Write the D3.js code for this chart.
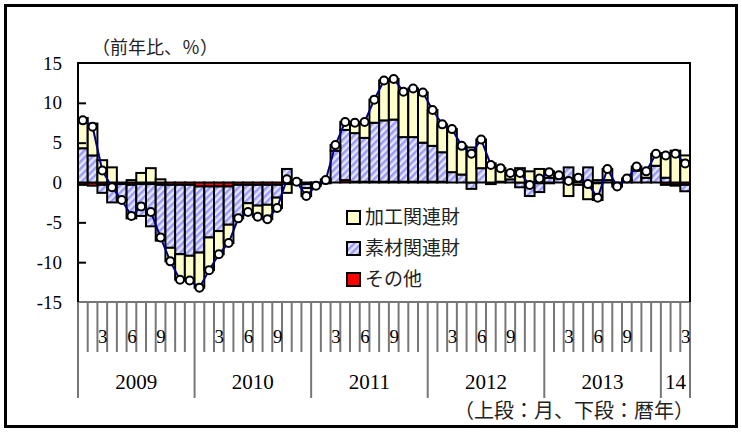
<!DOCTYPE html>
<html>
<head>
<meta charset="utf-8">
<script src="https://cdn.jsdelivr.net/npm/d3@7"></script>
<style>
  body { margin: 0; background: #fff; }
</style>
</head>
<body>
<div id="chart"></div>
<script>
// year row of the category axis, and how many months each year has in the chart
var yearLabels = ["2009", "2010", "2011", "2012", "2013", "14"];
var monthsInYear = [12, 12, 12, 12, 12, 3];
var monthLabels = {3: "3", 6: "6", 9: "9"};

var yTicks = [-15, -10, -5, 0, 5, 10, 15];

// contributions, Jan 2009 .. Mar 2014 (%)
var sonota = [-0.3, -0.4, -0.3, -0.2, -0.2, -0.3, -0.2, -0.2, -0.3, -0.3, -0.3, -0.3,
              -0.5, -0.5, -0.5, -0.5, -0.3, -0.3, -0.3, -0.3, -0.3, -0.2, -0.1, -0.2,
              -0.1, -0.1, 0.0, 0.3, 0.1, 0.1, 0.1, 0.1, 0.1, 0.1, 0.1, 0.1,
              0.1, 0.1, 0.0, 0.0, 0.0, 0.0, 0.0, 0.0, 0.0, 0.0, 0.0, -0.1,
              -0.1, 0.0, 0.0, 0.0, -0.2, -0.1, 0.0, -0.1, 0.0, 0.0, 0.0, 0.0,
              -0.3, -0.3, -0.3];
var sozai = [4.3, 3.4, -1.0, -2.3, -1.9, -4.2, -4.0, -5.3, -7.0, -7.9, -8.7, -8.9,
             -8.3, -6.4, -5.6, -4.8, -3.9, -2.3, -2.6, -2.5, -1.6, 1.7, 0.3, -0.5,
             -0.1, 0.2, 4.0, 6.3, 6.1, 5.5, 7.4, 7.7, 7.8, 5.6, 5.6, 4.9,
             4.5, 3.7, 1.3, 1.0, -0.8, 1.8, -0.2, 0.1, 0.4, -0.6, -1.7, -1.1,
             0.6, 0.5, 1.9, 0.9, 1.9, 0.3, 0.3, -0.1, 0.3, 1.5, 0.6, 2.1,
             0.6, -0.1, -0.8];
var kako = [3.8, 4.0, 2.8, 1.9, -0.1, 0.3, 1.2, 1.8, 0.4, -1.7, -3.2, -3.1,
            -4.4, -4.1, -2.9, -2.3, -0.3, -1.1, -1.4, -1.8, -1.3, -1.1, -0.1, -1.0,
            -0.2, 0.2, 0.7, 1.0, 1.3, 2.0, 2.9, 5.0, 5.1, 5.7, 6.1, 6.3,
            4.5, 3.5, 5.4, 3.6, 4.4, 3.6, 2.4, 1.7, 0.8, 1.8, 1.4, 1.7,
            0.8, 0.4, -1.7, -0.3, -1.9, -2.1, 1.4, -0.3, 0.2, 0.5, 0.8, 1.5,
            3.1, 4.0, 3.4];
var total = [7.8, 7.0, 1.5, -0.6, -2.2, -4.2, -3.0, -3.7, -6.9, -9.9, -12.2, -12.3,
             -13.2, -11.0, -9.0, -7.6, -4.5, -3.7, -4.3, -4.6, -3.2, 0.4, 0.1, -1.7,
             -0.4, 0.3, 4.7, 7.6, 7.5, 7.6, 10.4, 12.8, 13.0, 11.4, 11.8, 11.3,
             9.1, 7.3, 6.7, 4.6, 3.6, 5.4, 2.2, 1.8, 1.2, 1.2, -0.3, 0.5,
             1.3, 0.9, 0.2, 0.6, -0.2, -1.9, 1.7, -0.5, 0.5, 2.0, 1.4, 3.6,
             3.4, 3.6, 2.4];

var seriesKeys = ["sonota", "sozai", "kako"];
var seriesFill = {sonota: "#ff0000", sozai: "url(#hatch)", kako: "#ffffcc"};
var legendItems = [
  {key: "kako", label: "加工関連財"},
  {key: "sozai", label: "素材関連財"},
  {key: "sonota", label: "その他"}
];

(function() {
  var width = 742, height = 432;
  var pL = 78, pR = 690, pT = 63, pB = 302;

  var rows = total.map(function(t, i) {
    return {i: i, sonota: sonota[i], sozai: sozai[i], kako: kako[i]};
  });

  var svg = d3.select("#chart").append("svg")
    .attr("width", width)
    .attr("height", height);

  var defs = svg.append("defs");
  var pat = defs.append("pattern")
    .attr("id", "hatch")
    .attr("patternUnits", "userSpaceOnUse")
    .attr("width", 5)
    .attr("height", 5)
    .attr("patternTransform", "rotate(45)");
  pat.append("rect").attr("width", 5).attr("height", 5).attr("fill", "#e6e6ff");
  pat.append("rect").attr("width", 2.5).attr("height", 5).attr("fill", "#9b9bf3");

  var x = d3.scaleBand().domain(d3.range(total.length)).range([pL, pR]).padding(0);
  var y = d3.scaleLinear().domain([-15, 15]).range([pB, pT]);
  var bw = x.bandwidth();

  // outer frame
  svg.append("rect")
    .attr("x", 5.5).attr("y", 5.5)
    .attr("width", 731).attr("height", 421)
    .attr("fill", "none").attr("stroke", "#000").attr("stroke-width", 3);

  // stacked bars
  var stacked = d3.stack().keys(seriesKeys).offset(d3.stackOffsetDiverging)(rows);

  svg.append("g").selectAll("g")
    .data(stacked)
    .enter().append("g")
    .attr("fill", function(s) { return seriesFill[s.key]; })
    .selectAll("rect")
    .data(function(s) { return s; })
    .enter().append("rect")
    .attr("x", function(d) { return x(d.data.i); })
    .attr("width", bw)
    .attr("y", function(d) { return y(Math.max(d[0], d[1])); })
    .attr("height", function(d) { return Math.abs(y(d[0]) - y(d[1])); })
    .attr("stroke", "#000")
    .attr("stroke-width", 2);

  // total line + markers
  var line = d3.line()
    .x(function(d, i) { return x(i) + bw / 2; })
    .y(function(d) { return y(d); });

  svg.append("path")
    .datum(total)
    .attr("d", line)
    .attr("fill", "none")
    .attr("stroke", "#000080")
    .attr("stroke-width", 2);

  svg.append("g").selectAll("circle")
    .data(total)
    .enter().append("circle")
    .attr("cx", function(d, i) { return x(i) + bw / 2; })
    .attr("cy", function(d) { return y(d); })
    .attr("r", 4)
    .attr("fill", "#fff")
    .attr("stroke", "#000")
    .attr("stroke-width", 2);

  // y axis: labels outside, short ticks inside
  var yLab = svg.append("g")
    .attr("transform", "translate(" + pL + ",0)")
    .call(d3.axisLeft(y).tickValues(yTicks).tickSize(0).tickPadding(16)
      .tickFormat(function(d) { return String(d); }));
  yLab.select(".domain").remove();
  yLab.selectAll("text")
    .attr("font-family", "'Liberation Serif', serif")
    .attr("font-size", 19)
    .attr("fill", "#000");

  var yIn = svg.append("g")
    .attr("transform", "translate(" + pL + ",0)")
    .call(d3.axisRight(y).tickValues([-10, -5, 5, 10]).tickSize(8).tickFormat(""));
  yIn.select(".domain").remove();
  yIn.selectAll("line").attr("stroke", "#000").attr("stroke-width", 2);

  // category axis: month boundary lines, long ones at year starts
  var cats = [];
  yearLabels.forEach(function(yl, k) {
    for (var m = 1; m <= monthsInYear[k]; m++) cats.push({year: k, month: m});
  });

  var axisG = svg.append("g");
  axisG.append("line")
    .attr("x1", pL).attr("x2", pR)
    .attr("y1", pB).attr("y2", pB)
    .attr("stroke", "#777").attr("stroke-width", 2);

  var bounds = d3.range(cats.length + 1);
  axisG.selectAll("line.tick")
    .data(bounds)
    .enter().append("line")
    .attr("class", "tick")
    .attr("x1", function(b) { return b < cats.length ? x(b) : pR; })
    .attr("x2", function(b) { return b < cats.length ? x(b) : pR; })
    .attr("y1", pB)
    .attr("y2", function(b) {
      var yearEdge = b === 0 || b === cats.length || cats[b].month === 1;
      return yearEdge ? 398 : 352;
    })
    .attr("stroke", "#777")
    .attr("stroke-width", 2);

  axisG.selectAll("text.month")
    .data(cats.filter(function(c) { return monthLabels[c.month]; }))
    .enter().append("text")
    .attr("class", "month")
    .attr("x", function(c) { return x(cats.indexOf(c)) + bw / 2 + 0.5; })
    .attr("y", 343)
    .attr("text-anchor", "middle")
    .attr("font-family", "'Liberation Serif', serif")
    .attr("font-size", 19)
    .text(function(c) { return monthLabels[c.month]; });

  var startIdx = 0;
  var yearPos = yearLabels.map(function(yl, k) {
    var s = startIdx;
    startIdx += monthsInYear[k];
    return {label: yl, start: s, end: startIdx};
  });
  axisG.selectAll("text.year")
    .data(yearPos)
    .enter().append("text")
    .attr("class", "year")
    .attr("x", function(d) {
      var a = x(d.start), b = d.end < total.length ? x(d.end) : pR;
      return (a + b) / 2;
    })
    .attr("y", 389)
    .attr("text-anchor", "middle")
    .attr("font-family", "'Liberation Serif', serif")
    .attr("font-size", 21)
    .text(function(d) { return d.label; });

  // plot frame (top, left, right)
  svg.append("path")
    .attr("d", "M" + pL + "," + pB + "V" + pT + "H" + pR + "V" + pB)
    .attr("fill", "none")
    .attr("stroke", "#000")
    .attr("stroke-width", 2);

  // legend
  var lg = svg.append("g").selectAll("g")
    .data(legendItems)
    .enter().append("g")
    .attr("transform", function(d, i) { return "translate(347," + (211 + i * 31) + ")"; });
  lg.append("rect")
    .attr("width", 13).attr("height", 13)
    .attr("fill", function(d) { return seriesFill[d.key]; })
    .attr("stroke", "#000").attr("stroke-width", 2);
  lg.append("text")
    .attr("x", 18).attr("y", 13)
    .attr("font-family", "'Noto Sans CJK JP', sans-serif")
    .attr("font-size", 19)
    .attr("fill", "#222")
    .text(function(d) { return d.label; });

  // unit and note
  svg.append("text")
    .attr("x", 92).attr("y", 54)
    .attr("font-family", "'Noto Sans CJK JP', sans-serif")
    .attr("font-size", 18)
    .attr("fill", "#222")
    .text("（前年比、％）");

  svg.append("text")
    .attr("x", 694).attr("y", 418)
    .attr("text-anchor", "end")
    .attr("font-family", "'Noto Sans CJK JP', sans-serif")
    .attr("font-size", 20)
    .attr("fill", "#222")
    .text("（上段：月、下段：暦年）");
})();
</script>
</body>
</html>
